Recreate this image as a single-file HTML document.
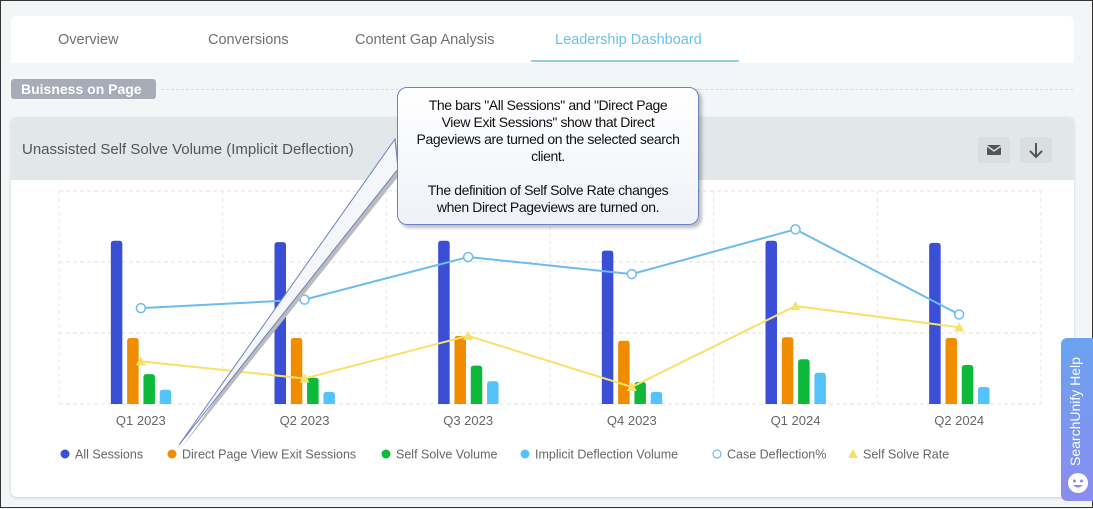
<!DOCTYPE html>
<html><head><meta charset="utf-8">
<style>
*{box-sizing:border-box;margin:0;padding:0}
body{width:1093px;height:508px;overflow:hidden;font-family:"Liberation Sans",sans-serif;background:#f2f6f7;position:relative;border:1px solid #333}
.abs{position:absolute}
.tabs{left:10px;top:15px;width:1063px;height:47px;background:#fff;border-radius:6px 6px 0 0}
.tab{position:absolute;top:16px;font-size:14.5px;color:#707070}
.pill{left:10px;top:78px;width:145px;height:20px;background:#a7acb8;color:#fff;font-size:14px;font-weight:bold;border-radius:3px;padding:2px 0 0 10px}
.card{left:10px;top:116px;width:1063px;height:380px;background:#fff;border-radius:6px;box-shadow:0 1px 3px rgba(0,0,0,.15)}
.hdr{left:0;top:0;width:1063px;height:63px;background:#e2e7ea;border-radius:6px 6px 0 0}
.btn{top:20px;width:32px;height:26px;background:#d9dee1;border-radius:3px}
.callout{left:396px;top:86px;width:302px;height:138px;border:1px solid #6b83c4;border-radius:10px;background:linear-gradient(#fff,#eef2f8);box-shadow:3px 3px 3px rgba(0,0,0,.25);font-size:14px;line-height:17px;text-align:center;padding:9px 0;color:#111;letter-spacing:-0.4px;white-space:nowrap}
.help{left:1060px;top:337px;width:33px;height:163px;border-radius:6px 0 0 6px;background:linear-gradient(#6aa3ef,#8a8cf0)}
</style></head><body>
<div class="abs tabs">
<div class="tab" style="left:47px">Overview</div>
<div class="tab" style="left:197px">Conversions</div>
<div class="tab" style="left:344px">Content Gap Analysis</div>
<div class="tab" style="left:544px;color:#6cc0ea">Leadership Dashboard</div>
<div class="abs" style="left:520px;top:44px;width:208px;height:2px;background:#8fcfee"></div>
</div>
<div class="abs pill">Buisness on Page</div>
<div class="abs" style="left:160px;top:88px;width:912px;border-top:1px dashed #cfe0ea"></div>
<div class="abs card">
<div class="abs hdr">
<div class="abs" style="left:11px;top:24px;font-size:15px;color:#555">Unassisted Self Solve Volume (Implicit Deflection)</div>
<div class="abs btn" style="left:967px"><svg width="32" height="26"><rect x="9" y="8" width="14" height="10" rx="1" fill="#555"/><path d="M9 9 L16 14 L23 9" stroke="#d9dee1" stroke-width="1.5" fill="none"/></svg></div>
<div class="abs btn" style="left:1009px"><svg width="32" height="26"><path d="M16 6 V20 M10 14 L16 20 L22 14" stroke="#555" stroke-width="2" fill="none"/></svg></div>
</div>
</div>
<svg class="abs" style="left:0;top:0" width="1093" height="508" id="chart"></svg>
<svg class="abs" style="left:0;top:0;pointer-events:none" width="1093" height="508">
<polygon points="181,446 397,142 400,172" fill="#bbb"/>
<polygon points="178,444 394,138 397,168" fill="#f4f6fa" stroke="#6b83c4" stroke-width="1"/>
</svg>
<div class="abs callout">The bars "All Sessions" and "Direct Page<br>View Exit Sessions" show that Direct<br>Pageviews are turned on the selected search<br>client.<br><br>The definition of Self Solve Rate changes<br>when Direct Pageviews are turned on.</div>
<div class="abs help">
<div class="abs" style="left:6px;top:128px;transform:rotate(-90deg);transform-origin:0 0;color:#fff;font-size:14px;white-space:nowrap">SearchUnify Help</div>
<svg class="abs" style="left:6px;top:134px" width="22" height="22"><circle cx="11" cy="11" r="10" fill="#fff"/><circle cx="7.5" cy="9" r="1.5" fill="#8a8cf0"/><circle cx="14.5" cy="9" r="1.5" fill="#8a8cf0"/><path d="M6 13 Q11 18 16 13" fill="#8a8cf0"/></svg>
</div>
<script>
const categories=["Q1 2023","Q2 2023","Q3 2023","Q4 2023","Q1 2024","Q2 2024"];
const allSessions=[230,228,230,216,230,227];
const directExit=[93,93,96,89,94,93];
const selfSolveVol=[42,37,54,31,63,55];
const implicitDefl=[20,17,32,17,44,24];
const caseDeflection=[45,49,69,61,82,42];
const selfSolveRate=[20,12,32,8,46,36];
const barMax=300, pctMax=100;
const NS="http://www.w3.org/2000/svg";
const svg=document.getElementById('chart');
const X0=58,X1=1040,Y0=403,Y1=190;
const gw=(X1-X0)/categories.length;
const cx=i=>X0+gw*(i+0.5);
const yb=v=>Y0-(v/barMax)*(Y0-Y1);
const yp=v=>Y0-(v/pctMax)*(Y0-Y1);
function mk(t,a){const e=document.createElementNS(NS,t);for(const k in a)e.setAttribute(k,a[k]);svg.appendChild(e);return e;}
for(let k=0;k<=3;k++){const y=Y0-k*(Y0-Y1)/3;const g=mk('line',{x1:X0,x2:X1,y1:y,y2:y,stroke:'#e2e2e2','stroke-dasharray':'4,3'});

}
for(let k=0;k<=categories.length;k++){const x=X0+k*gw;const g=mk('line',{x1:x,x2:x,y1:Y1,y2:Y0,stroke:'#e8e8e8','stroke-dasharray':'4,3'});

}
const series=[[allSessions,'#3a4fd6','bar-all-sessions'],[directExit,'#f08c00','bar-direct-exit'],[selfSolveVol,'#0db93a','bar-self-solve-volume'],[implicitDefl,'#55c3fb','bar-implicit-deflection']];
categories.forEach((c,i)=>{
 series.forEach((s,j)=>{const x=cx(i)-30+j*16.3;const y=yb(s[0][i]);
  const r=mk('path',{d:`M${x} ${Y0} V${y+3} Q${x} ${y} ${x+3} ${y} H${x+8.5} Q${x+11.5} ${y} ${x+11.5} ${y+3} V${Y0} Z`,fill:s[1]});
  
  });
 const t=mk('text',{x:cx(i),y:424,'text-anchor':'middle','font-size':13,fill:'#666','font-family':'Liberation Sans'});t.textContent=c;
 
 
});
const l1=mk('polyline',{points:caseDeflection.map((v,i)=>cx(i)+','+yp(v)).join(' '),fill:'none',stroke:'#6dbbf0','stroke-width':2});


const l2=mk('polyline',{points:selfSolveRate.map((v,i)=>cx(i)+','+yp(v)).join(' '),fill:'none',stroke:'#f8e16a','stroke-width':2});


caseDeflection.forEach((v,i)=>{const p=mk('circle',{cx:cx(i),cy:yp(v),r:4.5,fill:'#fff',stroke:'#6dbbf0','stroke-width':1.5});

});
selfSolveRate.forEach((v,i)=>{const x=cx(i),y=yp(v);const p=mk('polygon',{points:`${x},${y-5} ${x-5},${y+4} ${x+5},${y+4}`,fill:'#f8e16a'});

});
const legend=[['All Sessions','#3a4fd6','dot',64],['Direct Page View Exit Sessions','#f08c00','dot',171],['Self Solve Volume','#0db93a','dot',385],['Implicit Deflection Volume','#55c3fb','dot',524],['Case Deflection%','#6dbbf0','ring',716],['Self Solve Rate','#f8e16a','tri',852]];
legend.forEach(l=>{const x=l[3],y=453;
 let m;
 if(l[2]==='dot')m=mk('circle',{cx:x,cy:y,r:4.5,fill:l[1]});
 else if(l[2]==='ring')m=mk('circle',{cx:x,cy:y,r:4,fill:'#fff',stroke:l[1],'stroke-width':1.2});
 else m=mk('polygon',{points:`${x},${y-5} ${x-5},${y+4} ${x+5},${y+4}`,fill:l[1]});
 
 
 const t=mk('text',{x:x+10,y:y+4.5,'font-size':12.5,fill:'#666','font-family':'Liberation Sans'});t.textContent=l[0];
 
 
});
</script>
</body></html>
